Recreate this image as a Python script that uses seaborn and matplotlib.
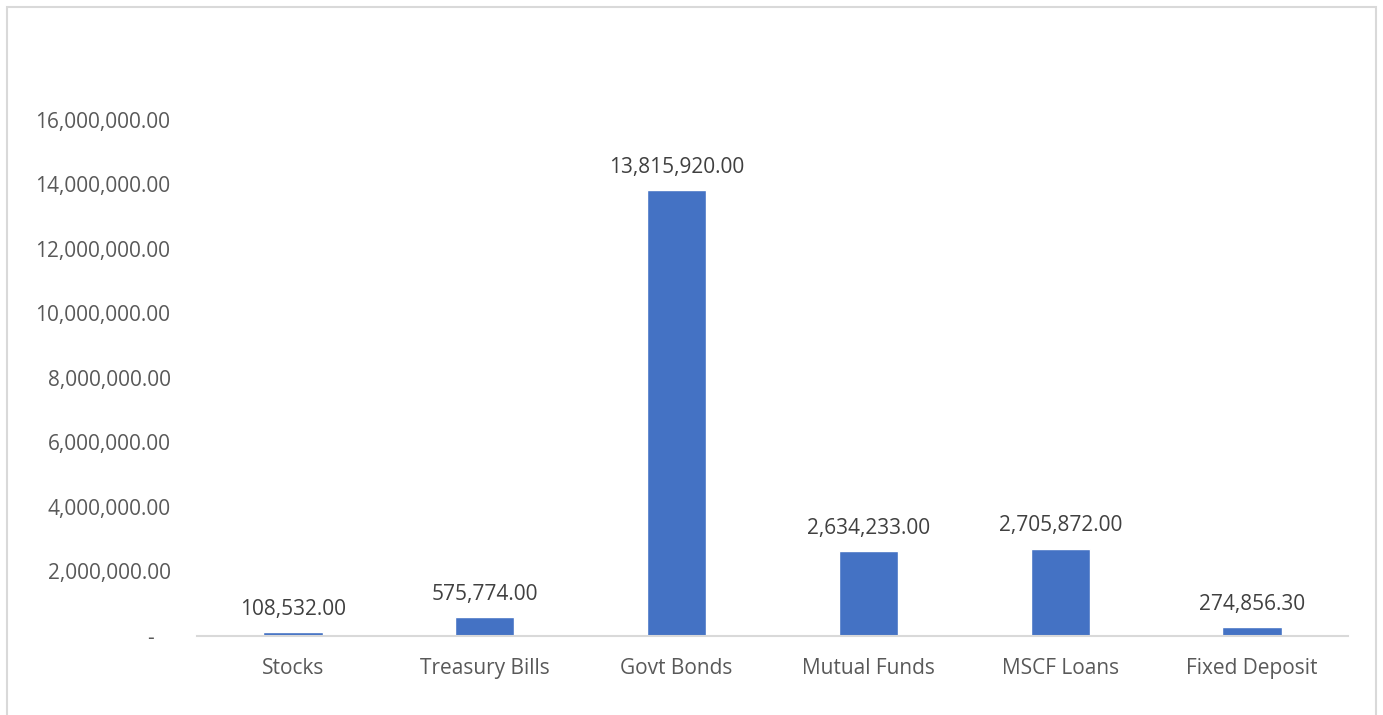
import matplotlib
matplotlib.use("Agg")
import matplotlib.pyplot as plt
import matplotlib.patches as mpatches
from matplotlib.ticker import FuncFormatter
import seaborn as sns
import pandas as pd

categories = ["Stocks", "Treasury Bills", "Govt Bonds", "Mutual Funds", "MSCF Loans", "Fixed Deposit"]
values = [108532.00, 575774.00, 13815920.00, 2634233.00, 2705872.00, 274856.30]
yticks = [0, 2_000_000, 4_000_000, 6_000_000, 8_000_000, 10_000_000, 12_000_000, 14_000_000, 16_000_000]

df = pd.DataFrame({"category": categories, "value": values})

sns.set_theme(style="white")
plt.rcParams["font.family"] = ["Open Sans", "DejaVu Sans"]

fig = plt.figure(figsize=(13.83, 7.15), dpi=100)
ax = fig.add_axes([0.1424, 0.1105, 0.8323, 0.8119])

sns.barplot(data=df, x="category", y="value", color="#4472C4", saturation=1,
            width=0.31, ax=ax)

ax.set_xlim(-0.5, len(categories) - 0.5)
ax.set_yticks(yticks)
ax.set_ylim(0, 18_000_000)


def money(v, _pos=None):
    if abs(v) < 1e-9:
        return "-   "
    return f"{v:,.2f}"


ax.yaxis.set_major_formatter(FuncFormatter(money))

ax.set_xlabel("")
ax.set_ylabel("")
for s in ["top", "right", "left"]:
    ax.spines[s].set_visible(False)
ax.spines["bottom"].set_color("#d9d9d9")
ax.spines["bottom"].set_linewidth(1.5)
ax.tick_params(axis="y", length=0, pad=19, labelsize=15, labelcolor="#595959")
ax.tick_params(axis="x", length=0, pad=16, labelsize=15, labelcolor="#595959")

for i, v in enumerate(values):
    ax.annotate(f"{v:,.2f}", xy=(i, v), xytext=(0, 9), textcoords="offset points",
                ha="center", va="bottom", fontsize=15, color="#404040")

# light border around the chart area (bottom edge runs off the canvas)
border = mpatches.Rectangle((7 / 1383, -10 / 715), 1369 / 1383, 718 / 715,
                            transform=fig.transFigure, fill=False,
                            edgecolor="#d9d9d9", linewidth=1.5)
fig.patches.append(border)

fig.savefig("out.png", dpi=100, facecolor="white")
